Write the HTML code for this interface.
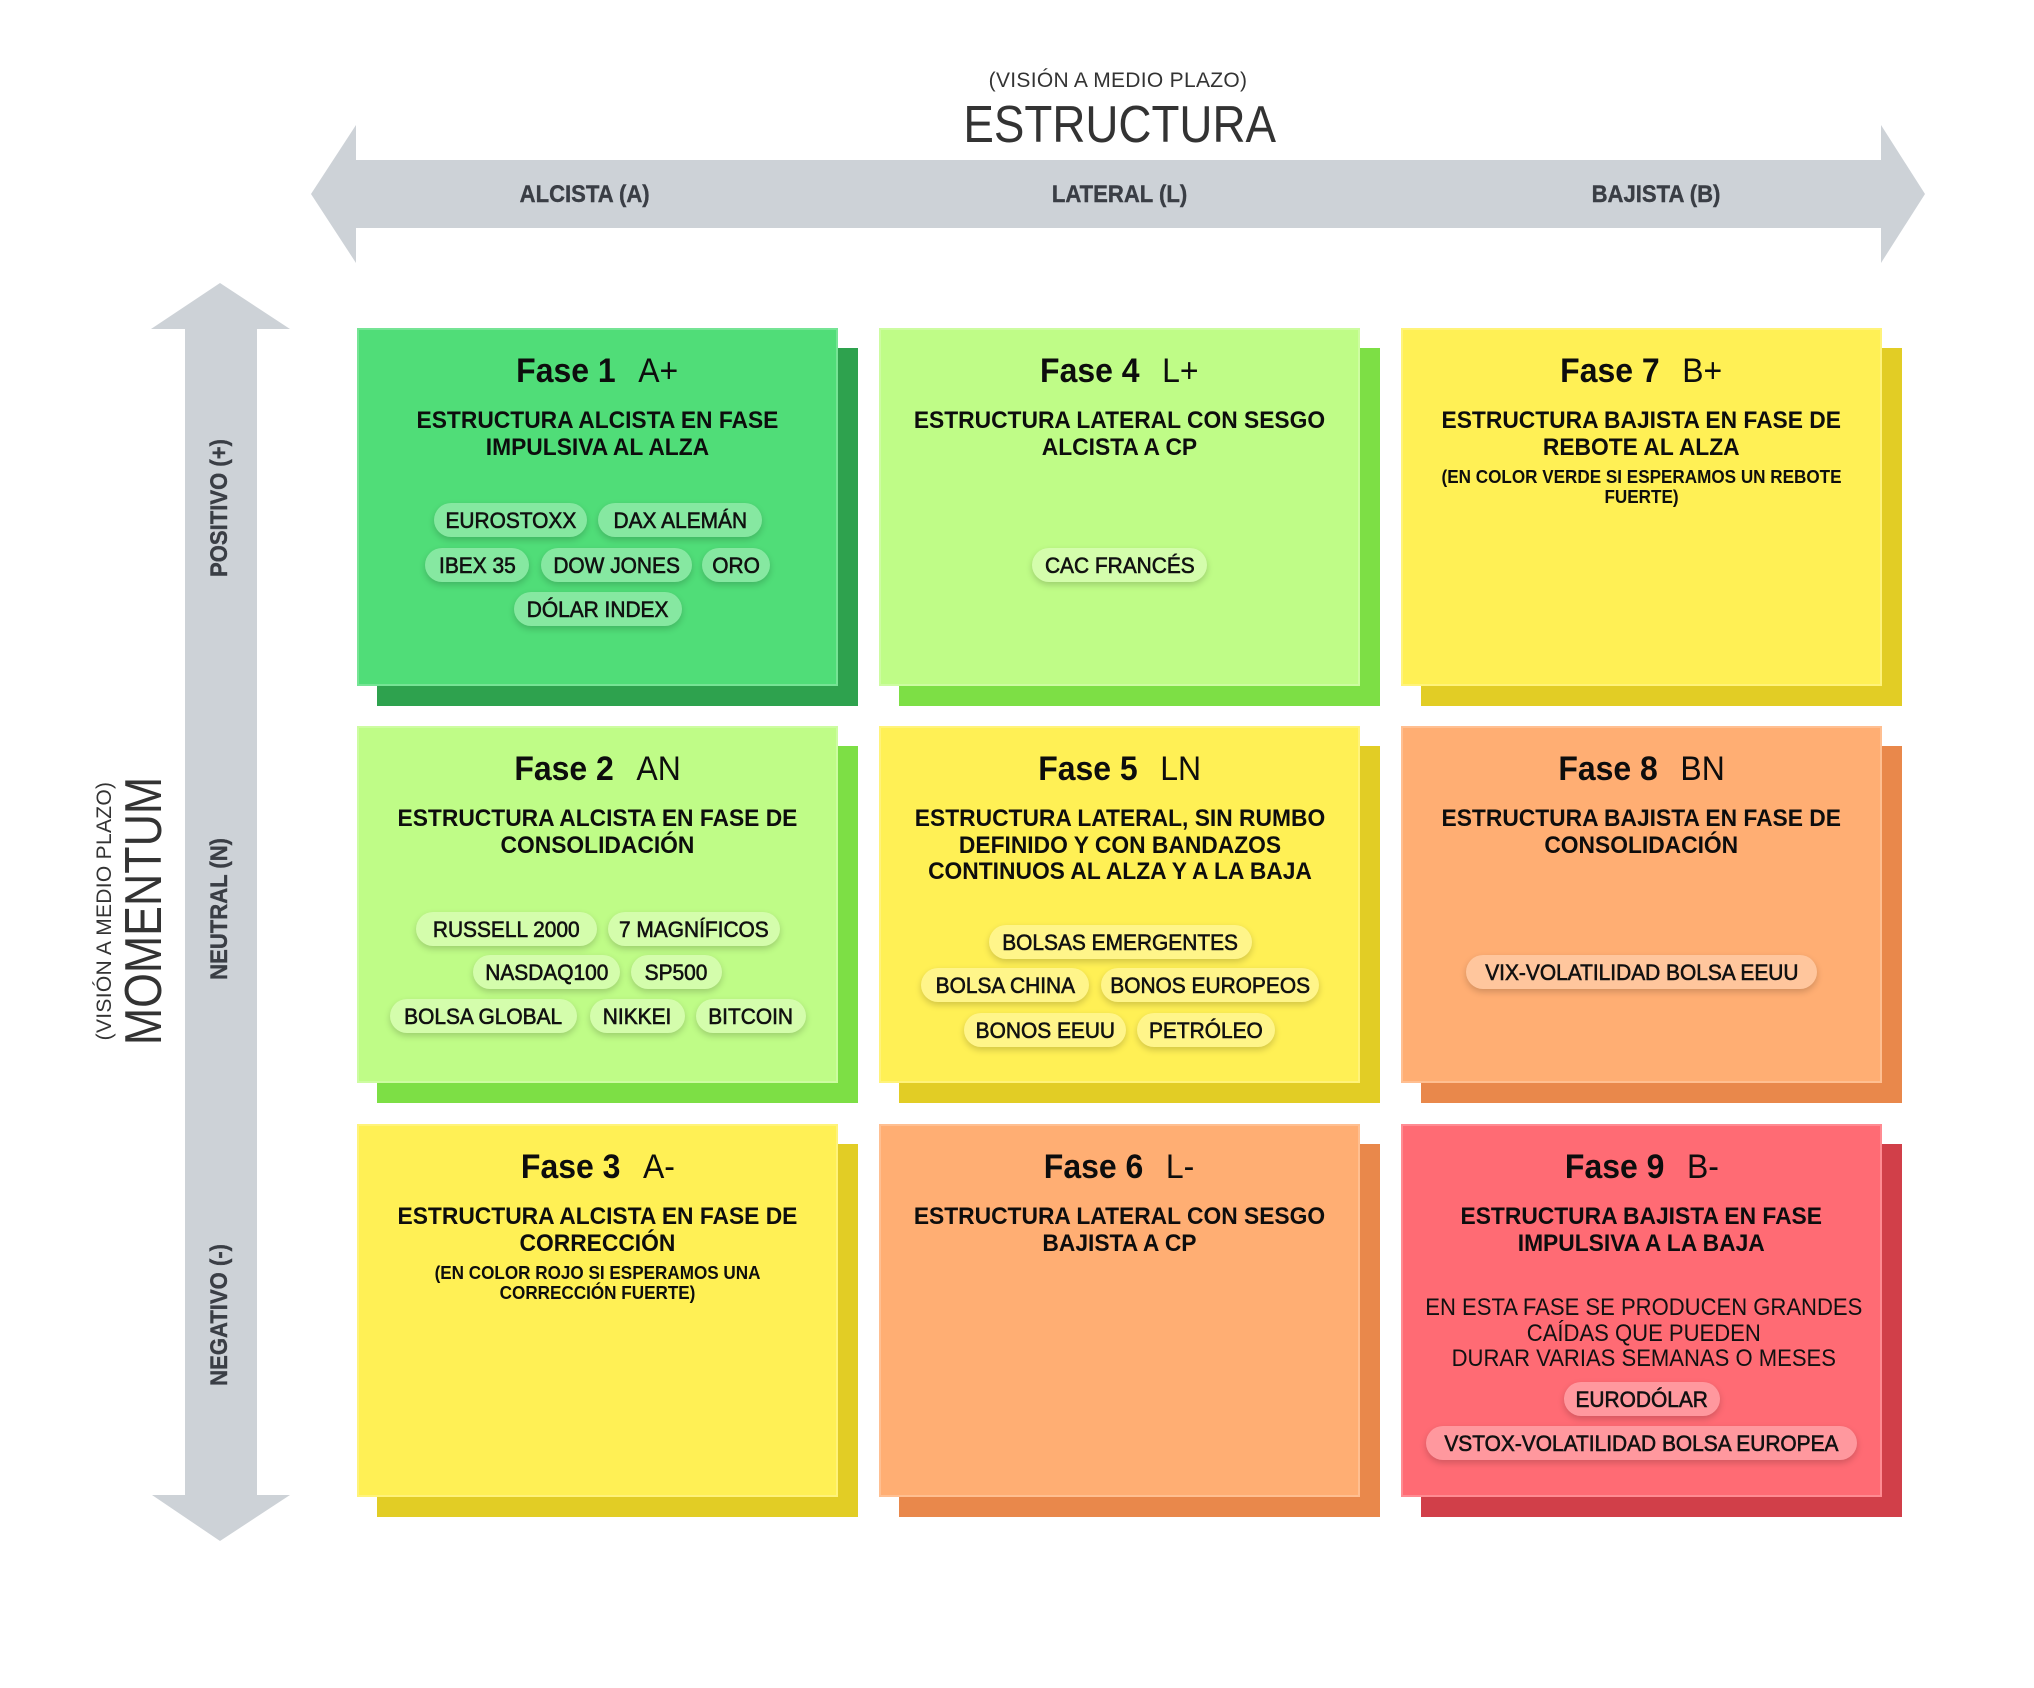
<!DOCTYPE html>
<html>
<head>
<meta charset="utf-8">
<style>
  html,body{margin:0;padding:0;background:#fff;}
  body{width:2034px;height:1688px;position:relative;overflow:hidden;font-family:"Liberation Sans",Arial,sans-serif;color:#111;}
  .a{position:absolute;white-space:nowrap;}
  .c{text-align:center;}
  .c>span{display:inline-block;}
  .sh{position:absolute;}
  .box{position:absolute;box-shadow:inset 0 0 0 2px rgba(255,255,255,0.22);}
  .ti{position:absolute;left:0;right:0;top:23px;line-height:40px;font-size:34px;text-align:center;white-space:nowrap;color:#0d0d0d;}
  .ti span{display:inline-block;transform:scaleX(.94);}
  .ti b{font-weight:700;}
  .ti i{font-style:normal;font-weight:400;margin-left:24px;}
  .su{position:absolute;left:0;right:0;top:80px;line-height:26.5px;font-size:24px;font-weight:700;text-align:center;white-space:nowrap;color:#0d0d0d;}
  .su span{display:inline-block;transform:scaleX(.95);}
  .no{position:absolute;left:0;right:0;top:139px;line-height:20px;font-size:18px;font-weight:700;text-align:center;white-space:nowrap;color:#0d0d0d;}
  .no span{display:inline-block;transform:scaleX(.95);}
  .bd{position:absolute;left:0;right:0;top:171px;line-height:25.5px;font-size:24.5px;font-weight:400;text-align:center;white-space:nowrap;color:#111;}
  .bd span{display:inline-block;transform:scaleX(.9);}
  .pill{position:absolute;height:34px;border-radius:17px;line-height:36px;font-size:22px;text-align:center;white-space:nowrap;color:#111;box-shadow:0 3px 7px rgba(0,0,0,0.18);-webkit-text-stroke:0.6px #111;}
  .pill span{display:inline-block;transform:scaleX(.95);}
  .pg{background:#86e8a1;}
  .pl{background:#d4fdac;}
  .py{background:#fff58a;}
  .po{background:#ffc69d;}
  .pr{background:#ff989e;}
  .hl{position:absolute;width:400px;top:180px;line-height:30px;font-size:24px;font-weight:700;color:#3a3e45;text-align:center;white-space:nowrap;-webkit-text-stroke:0.4px #3a3e45;}
  .hl span{display:inline-block;transform:scaleX(.92);}
  .vl{position:absolute;width:400px;height:30px;line-height:30px;font-size:24px;font-weight:700;color:#3a3e45;text-align:center;white-space:nowrap;transform:rotate(-90deg);-webkit-text-stroke:0.4px #3a3e45;}
  .vl span{display:inline-block;transform:scaleX(.92);}
</style>
</head>
<body>

<!-- Arrows -->
<svg class="a" style="left:0;top:0" width="2034" height="1688" viewBox="0 0 2034 1688">
  <polygon fill="#cdd2d7" points="311,194 356,125 356,160 1881,160 1881,125 1925,194 1881,263 1881,228 356,228 356,263"/>
  <polygon fill="#cdd2d7" points="220,283 290,329 257,329 257,1495 290,1495 220,1541 152,1495 185,1495 185,329 151,329"/>
</svg>

<!-- Top axis titles -->
<div class="a c" style="left:818px;width:600px;top:69px;line-height:24px;font-size:21px;color:#333;"><span style="letter-spacing:0.3px;">(VISIÓN A MEDIO PLAZO)</span></div>
<div class="a c" style="left:820px;width:600px;top:95px;line-height:60px;font-size:52px;color:#333;"><span style="transform:scaleX(.88);">ESTRUCTURA</span></div>

<div class="hl" style="left:385px;"><span>ALCISTA (A)</span></div>
<div class="hl" style="left:920px;"><span>LATERAL (L)</span></div>
<div class="hl" style="left:1456px;"><span>BAJISTA (B)</span></div>

<!-- Left axis titles -->
<div class="a c" style="left:-56px;width:400px;top:881px;height:60px;line-height:60px;font-size:52px;color:#333;transform:rotate(-90deg);"><span style="transform:scaleX(.86);">MOMENTUM</span></div>
<div class="a c" style="left:-95px;width:400px;top:899px;height:24px;line-height:24px;font-size:21px;color:#333;transform:rotate(-90deg);"><span style="letter-spacing:0.3px;">(VISIÓN A MEDIO PLAZO)</span></div>

<div class="vl" style="left:20px;top:493px;"><span>POSITIVO (+)</span></div>
<div class="vl" style="left:20px;top:894px;"><span>NEUTRAL (N)</span></div>
<div class="vl" style="left:20px;top:1300px;"><span>NEGATIVO (-)</span></div>

<!-- Shadows -->
<div class="sh" style="left:377px;top:348px;width:481px;height:358px;background:#2ea24e"></div>
<div class="sh" style="left:899px;top:348px;width:481px;height:358px;background:#7ddf45"></div>
<div class="sh" style="left:1421px;top:348px;width:481px;height:358px;background:#e2cd25"></div>
<div class="sh" style="left:377px;top:746px;width:481px;height:357px;background:#7ddf45"></div>
<div class="sh" style="left:899px;top:746px;width:481px;height:357px;background:#e2cd25"></div>
<div class="sh" style="left:1421px;top:746px;width:481px;height:357px;background:#e9884b"></div>
<div class="sh" style="left:377px;top:1144px;width:481px;height:373px;background:#e2cd25"></div>
<div class="sh" style="left:899px;top:1144px;width:481px;height:373px;background:#e9884b"></div>
<div class="sh" style="left:1421px;top:1144px;width:481px;height:373px;background:#d13f49"></div>

<!-- Row 1 -->
<div class="box" style="left:357px;top:328px;width:481px;height:358px;background:#50dd78">
  <div class="ti"><span><b>Fase 1</b><i>A+</i></span></div>
  <div class="su"><span>ESTRUCTURA ALCISTA EN FASE<br>IMPULSIVA AL ALZA</span></div>
</div>
<div class="box" style="left:879px;top:328px;width:481px;height:358px;background:#bffc87">
  <div class="ti"><span><b>Fase 4</b><i>L+</i></span></div>
  <div class="su"><span>ESTRUCTURA LATERAL CON SESGO<br>ALCISTA A CP</span></div>
</div>
<div class="box" style="left:1401px;top:328px;width:481px;height:358px;background:#fff055">
  <div class="ti"><span><b>Fase 7</b><i>B+</i></span></div>
  <div class="su"><span>ESTRUCTURA BAJISTA EN FASE DE<br>REBOTE AL ALZA</span></div>
  <div class="no"><span>(EN COLOR VERDE SI ESPERAMOS UN REBOTE<br>FUERTE)</span></div>
</div>

<!-- Row 2 -->
<div class="box" style="left:357px;top:726px;width:481px;height:357px;background:#bffc87">
  <div class="ti"><span><b>Fase 2</b><i>AN</i></span></div>
  <div class="su"><span>ESTRUCTURA ALCISTA EN FASE DE<br>CONSOLIDACIÓN</span></div>
</div>
<div class="box" style="left:879px;top:726px;width:481px;height:357px;background:#fff055">
  <div class="ti"><span><b>Fase 5</b><i>LN</i></span></div>
  <div class="su"><span>ESTRUCTURA LATERAL, SIN RUMBO<br>DEFINIDO Y CON BANDAZOS<br>CONTINUOS AL ALZA Y A LA BAJA</span></div>
</div>
<div class="box" style="left:1401px;top:726px;width:481px;height:357px;background:#ffae73">
  <div class="ti"><span><b>Fase 8</b><i>BN</i></span></div>
  <div class="su"><span>ESTRUCTURA BAJISTA EN FASE DE<br>CONSOLIDACIÓN</span></div>
</div>

<!-- Row 3 -->
<div class="box" style="left:357px;top:1124px;width:481px;height:373px;background:#fff055">
  <div class="ti"><span><b>Fase 3</b><i>A-</i></span></div>
  <div class="su"><span>ESTRUCTURA ALCISTA EN FASE DE<br>CORRECCIÓN</span></div>
  <div class="no"><span>(EN COLOR ROJO SI ESPERAMOS UNA<br>CORRECCIÓN FUERTE)</span></div>
</div>
<div class="box" style="left:879px;top:1124px;width:481px;height:373px;background:#ffae73">
  <div class="ti"><span><b>Fase 6</b><i>L-</i></span></div>
  <div class="su"><span>ESTRUCTURA LATERAL CON SESGO<br>BAJISTA A CP</span></div>
</div>
<div class="box" style="left:1401px;top:1124px;width:481px;height:373px;background:#ff6b74">
  <div class="ti"><span><b>Fase 9</b><i>B-</i></span></div>
  <div class="su"><span>ESTRUCTURA BAJISTA EN FASE<br>IMPULSIVA A LA BAJA</span></div>
  <div class="bd"><span>EN ESTA FASE SE PRODUCEN GRANDES<br>CAÍDAS QUE PUEDEN<br>DURAR VARIAS SEMANAS O MESES</span></div>
</div>

<!-- Pills Fase 1 -->
<div class="pill pg" style="left:434px;top:503px;width:153px"><span>EUROSTOXX</span></div>
<div class="pill pg" style="left:598px;top:503px;width:164px"><span>DAX ALEMÁN</span></div>
<div class="pill pg" style="left:425px;top:548px;width:104px"><span>IBEX 35</span></div>
<div class="pill pg" style="left:541px;top:548px;width:151px"><span>DOW JONES</span></div>
<div class="pill pg" style="left:702px;top:548px;width:68px"><span>ORO</span></div>
<div class="pill pg" style="left:514px;top:592px;width:168px"><span>DÓLAR INDEX</span></div>

<!-- Pills Fase 4 -->
<div class="pill pl" style="left:1032px;top:548px;width:175px"><span>CAC FRANCÉS</span></div>

<!-- Pills Fase 2 -->
<div class="pill pl" style="left:416px;top:912px;width:181px"><span>RUSSELL 2000</span></div>
<div class="pill pl" style="left:608px;top:912px;width:172px"><span>7 MAGNÍFICOS</span></div>
<div class="pill pl" style="left:473px;top:955px;width:147px"><span>NASDAQ100</span></div>
<div class="pill pl" style="left:631px;top:955px;width:91px"><span>SP500</span></div>
<div class="pill pl" style="left:390px;top:999px;width:187px"><span>BOLSA GLOBAL</span></div>
<div class="pill pl" style="left:590px;top:999px;width:95px"><span>NIKKEI</span></div>
<div class="pill pl" style="left:696px;top:999px;width:110px"><span>BITCOIN</span></div>

<!-- Pills Fase 5 -->
<div class="pill py" style="left:989px;top:925px;width:263px"><span>BOLSAS EMERGENTES</span></div>
<div class="pill py" style="left:921px;top:968px;width:168px"><span>BOLSA CHINA</span></div>
<div class="pill py" style="left:1101px;top:968px;width:218px"><span>BONOS EUROPEOS</span></div>
<div class="pill py" style="left:964px;top:1013px;width:162px"><span>BONOS EEUU</span></div>
<div class="pill py" style="left:1137px;top:1013px;width:138px"><span>PETRÓLEO</span></div>

<!-- Pills Fase 8 -->
<div class="pill po" style="left:1466px;top:955px;width:351px"><span>VIX-VOLATILIDAD BOLSA EEUU</span></div>

<!-- Pills Fase 9 -->
<div class="pill pr" style="left:1564px;top:1382px;width:156px"><span>EURODÓLAR</span></div>
<div class="pill pr" style="left:1426px;top:1426px;width:431px"><span>VSTOX-VOLATILIDAD BOLSA EUROPEA</span></div>

</body>
</html>
